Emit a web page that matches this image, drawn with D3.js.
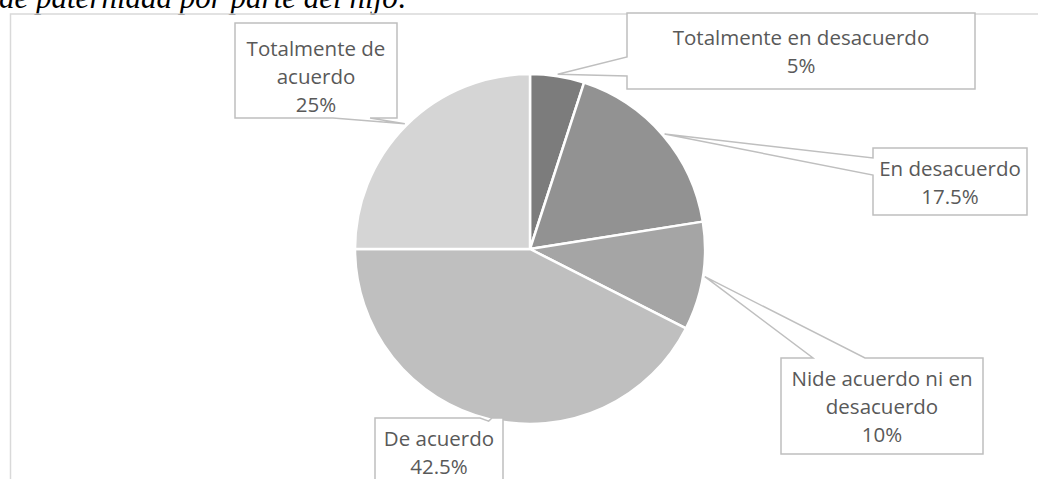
<!DOCTYPE html>
<html>
<head>
<meta charset="utf-8">
<script src="https://cdn.jsdelivr.net/npm/d3@7/dist/d3.min.js"></script>
<style>
  body { margin: 0; background: #fff; }
  svg { display: block; }
</style>
</head>
<body>
<svg width="1038" height="479"></svg>
<script>
var categories = ["Totalmente en desacuerdo", "En desacuerdo", "Nide acuerdo ni en desacuerdo", "De acuerdo", "Totalmente de acuerdo"];
var values = [5, 17.5, 10, 42.5, 25];
var colors = ["#7c7c7c", "#929292", "#a5a5a5", "#bfbfbf", "#d5d5d5"];
var title = "de paternidad por parte del hijo:";

// callout boxes: box, side the pointer leaves from, and the pointer base on that side
var callouts = [
    {x: 627, y: 13, w: 348, h: 76, side: "left", base: [57, 76], dy: 0},
    {x: 873, y: 148, w: 154, h: 67, side: "left", base: [158, 175], dy: 0},
    {x: 781, y: 358, w: 202, h: 96, side: "top", base: [813, 865], dy: 0},
    {x: 375, y: 418, w: 128, h: 67, side: "top", base: [480, 492], dy: 0},
    {x: 235, y: 23, w: 162, h: 95, side: "bottom", base: [333, 370], dy: 5}
];

var svg = d3.select("svg"),
    cx = 530, cy = 249, radius = 175,
    fontSize = 20.5, lineH = 28;

svg.append("text")
    .attr("x", -1)
    .attr("y", 8)
    .attr("font-family", "Liberation Serif, serif")
    .attr("font-style", "italic")
    .attr("font-size", 31)
    .attr("fill", "#000")
    .text(title);

// chart area border (continues past right and bottom)
svg.append("path")
    .attr("d", "M1045,14 H10.5 V490")
    .attr("fill", "none")
    .attr("stroke", "#d9d9d9")
    .attr("stroke-width", 1.5);

var pie = d3.pie().sort(null).value(function (d) { return d; });
var arcs = pie(values);

var arc = d3.arc().innerRadius(0).outerRadius(radius);
var tipArc = d3.arc().innerRadius(radius + 2).outerRadius(radius + 2);

var g = svg.append("g").attr("transform", "translate(" + cx + "," + cy + ")");

g.selectAll("path")
    .data(arcs)
    .enter().append("path")
    .attr("d", arc)
    .attr("fill", function (d, i) { return colors[i]; })
    .attr("stroke", "#fff")
    .attr("stroke-width", 2.5)
    .attr("stroke-linejoin", "round");

function calloutPath(c, tip) {
    var x = c.x, y = c.y, r = c.x + c.w, b = c.y + c.h, t = tip[0] + "," + tip[1];
    if (c.side === "top")
        return "M" + x + "," + y + "H" + c.base[0] + "L" + t + "L" + c.base[1] + "," + y +
            "H" + r + "V" + b + "H" + x + "Z";
    if (c.side === "bottom")
        return "M" + x + "," + y + "H" + r + "V" + b + "H" + c.base[1] + "L" + t +
            "L" + c.base[0] + "," + b + "H" + x + "Z";
    return "M" + x + "," + y + "H" + r + "V" + b + "H" + x + "V" + c.base[1] + "L" + t +
        "L" + x + "," + c.base[0] + "Z";
}

var labels = svg.append("g");

arcs.forEach(function (d, i) {
    var c = callouts[i];
    var p = tipArc.centroid(d);
    var tip = [cx + p[0], cy + p[1]];

    labels.append("path")
        .attr("d", calloutPath(c, tip))
        .attr("fill", "#fff")
        .attr("stroke", "#bfbfbf")
        .attr("stroke-width", 1.5)
        .attr("stroke-linejoin", "miter");

    var text = labels.append("text")
        .attr("font-family", "Open Sans, sans-serif")
        .attr("font-size", fontSize)
        .attr("fill", "#595959")
        .attr("text-anchor", "middle");

    // wrap the category name to the box width
    var words = categories[i].split(" "), lines = [], line = [];
    var probe = text.append("tspan");
    words.forEach(function (w) {
        var tryLine = line.concat([w]).join(" ");
        probe.text(tryLine);
        if (line.length && probe.node().getComputedTextLength() > c.w - 4) {
            lines.push(line.join(" "));
            line = [w];
        } else {
            line.push(w);
        }
    });
    lines.push(line.join(" "));
    probe.remove();
    lines.push(values[i] + "%");

    var mid = c.x + c.w / 2,
        first = c.y + c.h / 2 + 8 + c.dy - (lines.length - 1) * lineH / 2 + 0.36 * fontSize - 7;
    lines.forEach(function (l, k) {
        text.append("tspan")
            .attr("x", mid)
            .attr("y", first + k * lineH)
            .text(l);
    });
});
</script>
</body>
</html>
